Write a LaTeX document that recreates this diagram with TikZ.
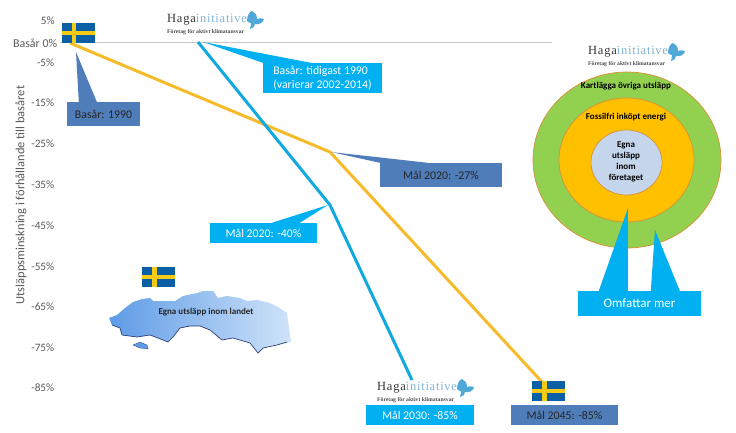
\documentclass[tikz,border=0pt]{standalone}
\usepackage{fontspec}
\setmainfont{Carlito}
\newfontfamily\logofont{Liberation Serif}
\newfontfamily\logowide[LetterSpace=6]{Liberation Serif}
\definecolor{hagablue}{HTML}{00B0F0}
\definecolor{linkblue}{HTML}{0FA9E0}
\definecolor{goalblue}{HTML}{4F7DBA}
\definecolor{goalyellow}{HTML}{F6BB2A}
\definecolor{flagblue}{HTML}{0B5FA5}
\definecolor{flagyellow}{HTML}{F7CB15}
\definecolor{ticktext}{HTML}{595959}
\definecolor{ringedge}{HTML}{D9913A}
\definecolor{ringgreen}{HTML}{92D050}
\definecolor{ringorange}{HTML}{FFC000}
\definecolor{ringblue}{HTML}{C5D5EC}
\definecolor{landleft}{HTML}{5E9BE6}
\definecolor{landright}{HTML}{CFE3F9}
\definecolor{landedge}{HTML}{2F3F6F}
\definecolor{wingblue}{HTML}{4FA8D8}
\definecolor{logotext}{HTML}{7FB3D0}
\tikzset{
	lightbox/.style={fill=hagablue,text=white,inner sep=0pt,font=\fontsize{11.8}{14}\selectfont},
	darkbox/.style={fill=goalblue,text=black!85,inner sep=0pt,font=\fontsize{11.8}{14}\selectfont},
	ticklabel/.style={anchor=east,inner sep=0pt,text=ticktext,font=\fontsize{11.3}{13}\selectfont},
	ring/.style={draw=ringedge,line width=0.7pt},
	ringlabel/.style={inner sep=0pt,font=\fontsize{9}{11}\selectfont\bfseries},
}
\newcommand{\hagalogo}[3]{%
	\node (#3name) [anchor=west,inner sep=0pt,font=\fontsize{12.5}{15}\selectfont] at (#1,#2) {\textcolor{black!80}{\logowide Haga}\textcolor{logotext}{\logowide initiativet}};
	\node (#3tag) [anchor=west,inner sep=0pt,text=black!70,font=\logofont\bfseries\fontsize{5.7}{7}\selectfont] at (#1,#2+12) {Företag för aktivt klimatansvar};
	\fill [wingblue,shift={(#1,#2)}] (80,1) .. controls (80,-5) and (83,-9) .. (85,-9) .. controls (88,-8) and (90,-5) .. (90,-1) .. controls (92,-2) and (95,-2) .. (97,-1) .. controls (96,3) and (92,5) .. (88,4) .. controls (88,6) and (86,9) .. (83,9) .. controls (84,6) and (84,4) .. (84,3) .. controls (82,3) and (81,2) .. (80,1) -- cycle;
}
\newcommand{\swedenflag}[3]{%
	\fill [flagblue] (#1,#2) rectangle ++(33,20);
	\fill [flagyellow] (#1+10,#2) rectangle ++(4.5,20);
	\fill [flagyellow] (#1,#2+7.8) rectangle ++(33,4.6);
}
\begin{document}
\begin{tikzpicture}[x=1pt,y=-1pt]
\useasboundingbox (0,0) rectangle (736,433);
% axis and its labels
\coordinate (axisstart) at (60,42.5);
\coordinate (axisend) at (552,42.5);
\draw [gray!45,line width=0.6pt] (axisstart) -- (axisend);
\node (tickfive) [ticklabel] at (55,21) {5\%};
\node (tickzero) [ticklabel,font=\fontsize{12}{14}\selectfont] at (57.5,43) {Basår 0\%};
\foreach \tick/\ypos in {5/62.5,15/103,25/143.5,35/184.5,45/225.5,55/266.5,65/307,75/347.5,85/388}
	\node (tick\tick) [ticklabel] at (54.5,\ypos) {-\tick\%};
\node (axistitle) [rotate=90,inner sep=0pt,text=ticktext,font=\fontsize{12.5}{14}\selectfont] at (21,195) {Utsläppsminskning i förhållande till basåret};
% the two paths
\coordinate (countrystart) at (70,43);
\coordinate (countrymid) at (330,152);
\coordinate (countryend) at (542,382);
\coordinate (firmstart) at (198,42);
\coordinate (firmmid) at (330,205);
\coordinate (firmend) at (412,380);
\draw [goalyellow,line width=3pt] (countrystart) -- (countrymid) -- (countryend);
\draw [linkblue,line width=3pt] (firmstart) -- (firmmid) -- (firmend);
% boxes with their wedges
\node (boxbase) [darkbox,minimum width=73pt,minimum height=24pt] at (103.5,114) {Basår: 1990};
\coordinate (tipbase) at (76,52);
\fill [goalblue] (tipbase) -- ([xshift=12pt]boxbase.north west) -- ([xshift=30pt]boxbase.north west) -- cycle;
\node (boxfirm) [lightbox,minimum width=119pt,minimum height=30pt,align=left] at (322.5,78) {Basår: tidigast 1990\\(varierar 2002-2014)};
\coordinate (tipfirm) at (203,42);
\fill [hagablue] (tipfirm) -- (boxfirm.north west) -- ([xshift=48pt]boxfirm.north west) -- cycle;
\node (boxtwentyseven) [darkbox,minimum width=122pt,minimum height=24pt] at (441,175) {Mål 2020: -27\%};
\coordinate (tiptwentyseven) at (331,152);
\fill [goalblue] (tiptwentyseven) -- (boxtwentyseven.north west) -- ([xshift=48pt]boxtwentyseven.north west) -- cycle;
\node (boxforty) [lightbox,minimum width=107pt,minimum height=20pt] at (263.5,233) {Mål 2020: -40\%};
\coordinate (tipforty) at (328,205);
\fill [hagablue] (tipforty) -- ([xshift=62pt]boxforty.north west) -- ([xshift=90pt]boxforty.north west) -- cycle;
\node (boxthirty) [lightbox,minimum width=108pt,minimum height=20pt] at (420,415) {Mål 2030: -85\%};
\node (boxfortyfive) [darkbox,minimum width=107pt,minimum height=20pt] at (564.5,415) {Mål 2045: -85\%};
% flags and logos
\swedenflag{61.5}{23}{flagbase}
\swedenflag{142}{267}{flagland}
\swedenflag{532}{381}{flaggoal}
\hagalogo{167}{20}{logotop}
\hagalogo{588}{52}{logoright}
\hagalogo{377}{388}{logobottom}
% the country
\shade [left color=landleft,right color=landright,shading angle=90,draw=none]
	(109,318) -- (117,315) -- (125,308) -- (133,302) -- (142,299) -- (150,298) -- (153,301) -- (165,301) -- (175,301) -- (183,296) -- (197,293) -- (203,291) -- (213,291) -- (218,298) -- (227,296) -- (240,298) -- (247,301) -- (257,300) -- (270,303) -- (278,307) -- (287,313) -- (291,342)
	-- (277,345) -- (263,348) -- (258,353) -- (250,343) -- (233,338) -- (222,340) -- (210,330) -- (200,326) -- (190,326) -- (180,328) -- (173,337) -- (168,342) -- (158,338) -- (150,335) -- (137,337) -- (122,335) -- (120,328) -- (112,325) -- cycle;
\draw [landedge,line width=0.7pt] (112,325) -- (120,328) -- (122,335) -- (137,337) -- (150,335) -- (158,338) -- (168,342) -- (173,337) -- (180,328) -- (190,326) -- (200,326) -- (210,330) -- (222,340) -- (233,338) -- (250,343) -- (258,353) -- (263,348) -- (277,345) -- (287,342);
\fill [landleft,draw=landedge,line width=0.3pt] (133,345) -- (140,342) -- (147,345) -- (148,349) -- (140,348) -- cycle;
\node (landlabel) [ringlabel,text=black!85] at (206,312) {Egna utsläpp inom landet};
% the rings
\draw [ring,fill=ringgreen] (627,160) ellipse [x radius=94,y radius=88];
\draw [ring,fill=ringorange] (626.5,160) ellipse [x radius=67.5,y radius=62];
\draw [ring,fill=ringblue] (626.5,162.5) ellipse [x radius=35.5,y radius=32.5];
\node (ringouter) [ringlabel] at (626,86) {Kartlägga övriga utsläpp};
\node (ringmiddle) [ringlabel] at (626,117) {Fossilfri inköpt energi};
\node (ringinner) [ringlabel,align=center] at (626,162) {Egna\\utsläpp\\inom\\företaget};
\node (boxmore) [lightbox,minimum width=123pt,minimum height=25pt,font=\fontsize{13}{15}\selectfont] at (639.5,303.5) {Omfattar mer};
\coordinate (tipmiddle) at (628,208);
\coordinate (tipouter) at (655,230);
\fill [hagablue] (tipmiddle) -- ([xshift=21pt]boxmore.north west) -- ([xshift=50pt]boxmore.north west) -- cycle;
\fill [hagablue] (tipouter) -- ([xshift=73pt]boxmore.north west) -- ([xshift=102pt]boxmore.north west) -- cycle;
\end{tikzpicture}
\end{document}
